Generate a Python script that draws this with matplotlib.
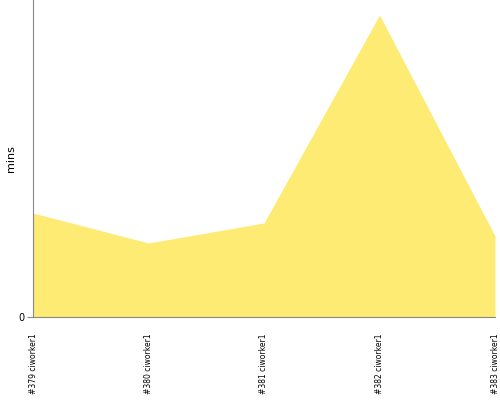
import matplotlib
matplotlib.use('Agg')
import matplotlib.pyplot as plt

builds = ['#379 ciworker1', '#380 ciworker1', '#381 ciworker1', '#382 ciworker1', '#383 ciworker1']
mins = [10.4, 7.4, 9.4, 30.2, 8.1]

fig = plt.figure(figsize=(5, 4), dpi=100)
ax = fig.add_axes([0.066, 0.2075, 0.924, 0.7925])
x = list(range(len(builds)))
ax.fill_between(x, mins, 0, color='#fdeb73', linewidth=0)
ax.set_xlim(0, len(builds) - 1)
ax.set_ylim(0, 31.7)
ax.set_yticks([0])
ax.set_yticklabels(['0'], fontsize=7)
ax.set_xticks(x)
ax.set_xticklabels(builds, rotation=90, fontsize=5.5, va='top', ha='center')
ax.tick_params(axis='x', length=0, pad=12)
ax.tick_params(axis='y', length=4, color='#888888', pad=2)
ax.set_ylabel('mins', fontsize=8, labelpad=2)
ax.spines['top'].set_visible(False)
ax.spines['right'].set_visible(False)
ax.spines['left'].set_color('#888888')
ax.spines['bottom'].set_color('#888888')
fig.savefig('out.png', dpi=100)
